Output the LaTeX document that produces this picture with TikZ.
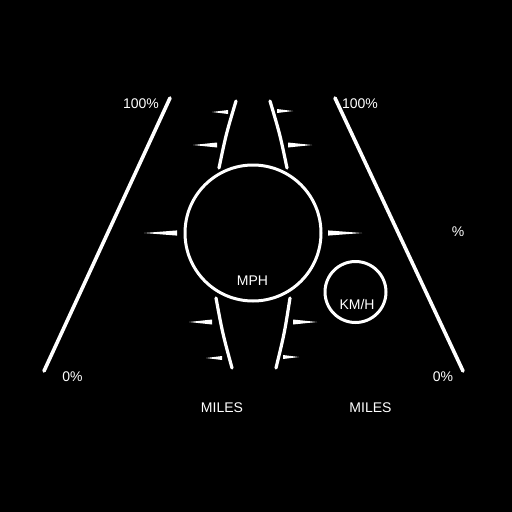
\documentclass[tikz,border=0pt]{standalone}
\usepackage{fontspec}
\setmainfont{Liberation Sans}
\usetikzlibrary{positioning}

\begin{document}
\begin{tikzpicture}[
    x=1pt, y=-1pt,
    font=\fontsize{14}{14}\selectfont,
    lbl/.style={text=white, inner sep=0pt},
    rail/.style={draw=white, line width=3.6pt, line cap=round},
    lane/.style={draw=white, line width=3.2pt, line cap=round},
    dial/.style={circle, draw=white, line width=3pt, inner sep=0pt},
    tick/.style={fill=white}]
  \fill[black] (0,0) rectangle (512,512);
  \useasboundingbox (0,0) rectangle (512,512);
  % gauges
  \node[dial, minimum size=136pt] (speedo) at (253,233) {};
  \node[dial, minimum size=61pt] (kmhdial) at (355.5,292) {};
  \node[lbl] (mph) at (252.5,281) {MPH};
  \node[lbl] (kmh) at (357,304) {KM/H};
  % outer rails
  \coordinate (railLtop) at (170,98);
  \coordinate (railLbot) at (44,371);
  \coordinate (railRtop) at (335,98);
  \coordinate (railRbot) at (463,371);
  \draw[rail] (railLtop) -- (railLbot);
  \draw[rail] (railRtop) -- (railRbot);
  % lane curves
  \draw[lane] (236,101) .. controls (226,134.5) .. (219,168);
  \draw[lane] (270,101) .. controls (280,134.5) .. (287,168);
  \draw[lane] (216,298) .. controls (222.5,333) .. (232,368);
  \draw[lane] (290,298) .. controls (284.5,333) .. (276,368);
  % ticks: tip x / base x / y / half height
  \foreach \tip/\base/\ty/\h in {212/228/112/2, 193/217/145/2.5, 144/177/233/2.6,
      189/212/322/2.5, 206/222/358/2, 293/277/111/2, 312/288/145/2.5,
      362/328/233/2.6, 317/293/322/2.5, 299/283/357/2}
    \fill[tick] (\tip,\ty) -- (\base,\ty-\h) -- (\base,\ty+\h) -- cycle;
  % labels
  \node[lbl] (fullL) at (141,104) {100\%};
  \node[lbl] (fullR) at (360,104) {100\%};
  \node[lbl] (emptyL) at (72.5,377) {0\%};
  \node[lbl] (emptyR) at (443,377) {0\%};
  \node[lbl] (pct) at (458,232) {\%};
  \node[lbl] (milesL) at (222,408) {MILES};
  \node[lbl] (milesR) at (370.5,408) {MILES};
\end{tikzpicture}
\end{document}
